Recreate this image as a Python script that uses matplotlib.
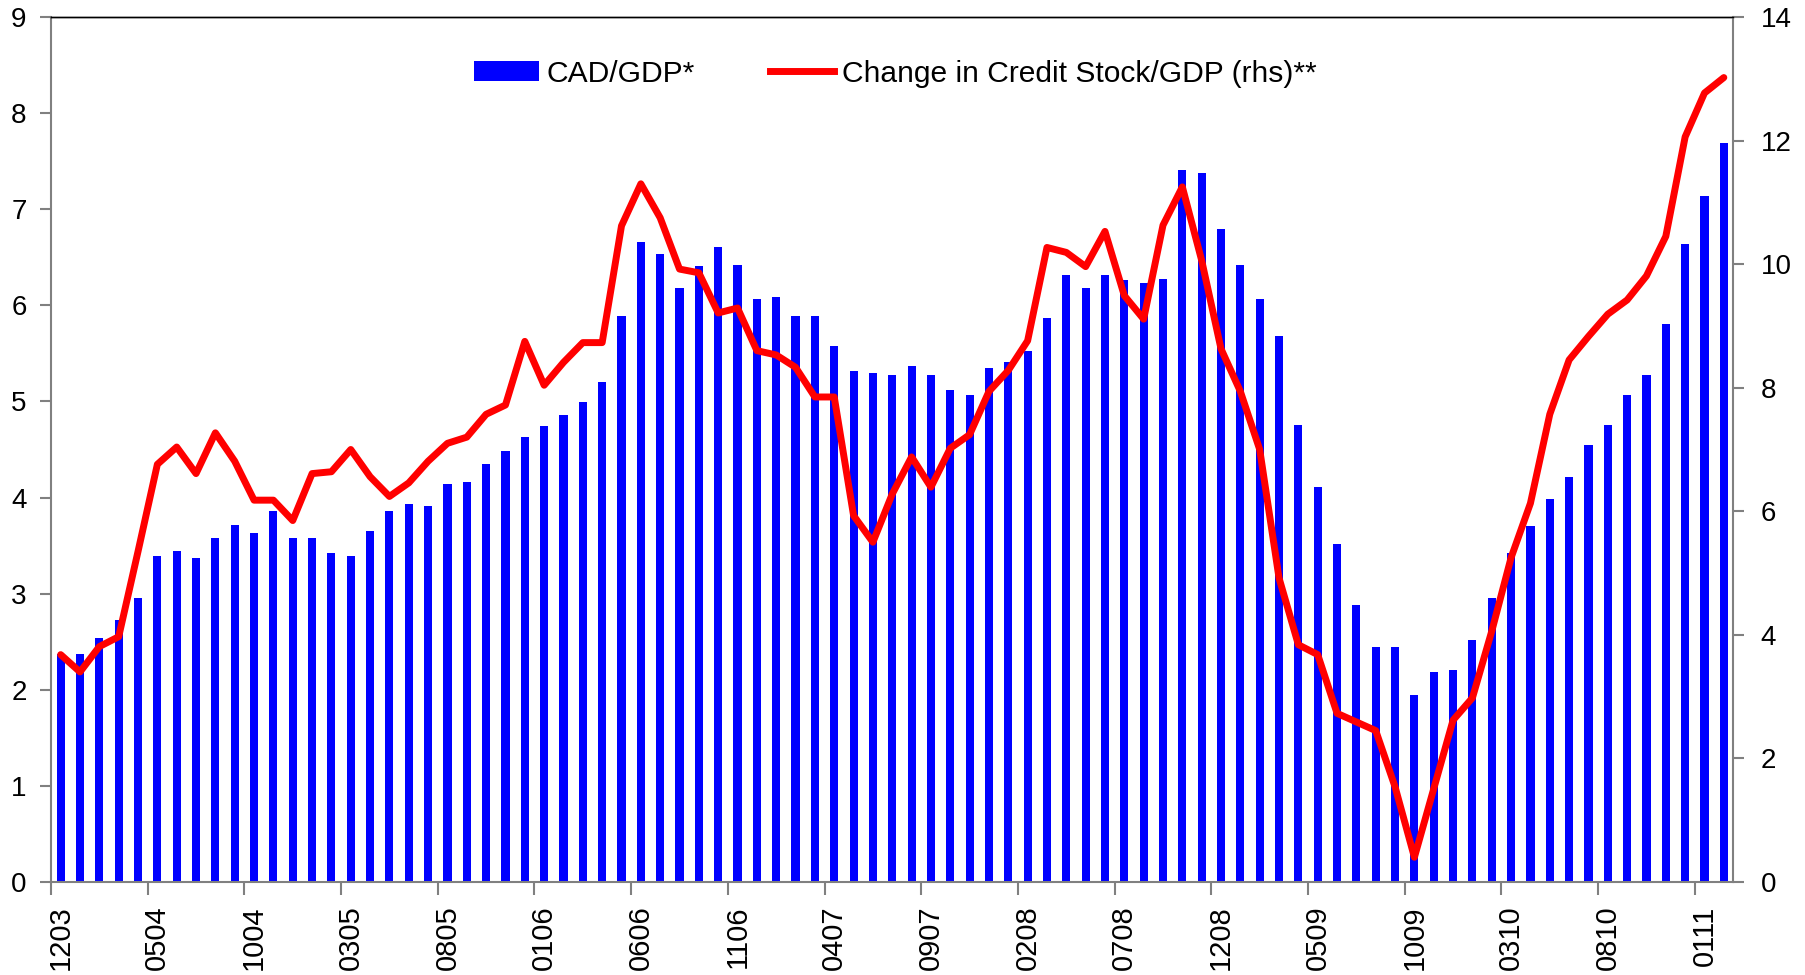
import matplotlib
matplotlib.use("Agg")
import matplotlib.pyplot as plt
from matplotlib.patches import Patch
from matplotlib.lines import Line2D

plt.rcParams['font.family'] = ['Liberation Sans', 'DejaVu Sans']

# CAD/GDP* (left axis), monthly from 12/2003 to 02/2011
cad_gdp = [2.37, 2.37, 2.54, 2.73, 2.95, 3.39, 3.44, 3.37, 3.58, 3.71, 3.63, 3.86, 3.58, 3.58, 3.42,
           3.39, 3.65, 3.86, 3.93, 3.91, 4.14, 4.16, 4.35, 4.48, 4.63, 4.74, 4.86, 4.99, 5.20, 5.89,
           6.66, 6.53, 6.18, 6.41, 6.61, 6.42, 6.07, 6.09, 5.89, 5.89, 5.58, 5.32, 5.30, 5.27, 5.37,
           5.27, 5.12, 5.07, 5.35, 5.41, 5.53, 5.87, 6.32, 6.18, 6.32, 6.26, 6.23, 6.27, 7.41, 7.38,
           6.79, 6.42, 6.07, 5.68, 4.76, 4.11, 3.52, 2.88, 2.44, 2.44, 1.95, 2.19, 2.21, 2.52, 2.95,
           3.42, 3.70, 3.98, 4.21, 4.55, 4.76, 5.07, 5.27, 5.81, 6.64, 7.14, 7.69]

# Change in Credit Stock/GDP (rhs)**
credit_gdp = [3.68, 3.40, 3.81, 3.97, 5.35, 6.76, 7.04, 6.61, 7.27, 6.81, 6.18, 6.18, 5.85, 6.61, 6.64,
              7.00, 6.56, 6.24, 6.46, 6.81, 7.10, 7.20, 7.57, 7.72, 8.75, 8.04, 8.41, 8.73, 8.73, 10.62,
              11.30, 10.75, 9.92, 9.86, 9.21, 9.29, 8.60, 8.53, 8.33, 7.85, 7.85, 5.93, 5.50, 6.28, 6.88,
              6.39, 7.02, 7.24, 7.94, 8.28, 8.76, 10.27, 10.19, 9.96, 10.53, 9.49, 9.11, 10.63, 11.25, 10.06,
              8.63, 7.94, 7.00, 4.92, 3.84, 3.68, 2.73, 2.59, 2.45, 1.54, 0.40, 1.51, 2.62, 2.98, 4.06,
              5.25, 6.13, 7.57, 8.45, 8.83, 9.19, 9.42, 9.81, 10.45, 12.06, 12.77, 13.02]

# x tick labels (every 5th month, MMYY)
tick_labels = ['1203', '0504', '1004', '0305', '0805', '0106', '0606', '1106', '0407',
               '0907', '0208', '0708', '1208', '0509', '1009', '0310', '0810', '0111']
label_step = 5

series_names = ['CAD/GDP*', 'Change in Credit Stock/GDP (rhs)**']

n = len(cad_gdp)
x = list(range(n))

W, H = 1806, 975
fig = plt.figure(figsize=(W / 100, H / 100), dpi=100)
L, R, T, B = 51, 1733.5, 17, 882
ax = fig.add_axes([L / W, 1 - B / H, (R - L) / W, (B - T) / H])

ax.bar(x, cad_gdp, width=0.42, color='#0000FF', zorder=2)
ax.set_xlim(-0.5, n - 0.5)
ax.set_ylim(0, 9)
ax.set_yticks(range(0, 10))

ax2 = ax.twinx()
ax2.plot(x, credit_gdp, color='#FF0000', lw=5, solid_joinstyle='round', solid_capstyle='round')
ax2.set_ylim(0, 14)
ax2.set_yticks(range(0, 15, 2))

gray = '#808080'
for a in (ax, ax2):
    for s in ('left', 'right', 'bottom'):
        a.spines[s].set_color(gray)
        a.spines[s].set_linewidth(1.5)
    a.spines['top'].set_color('black')
    a.spines['top'].set_linewidth(1.0)
ax.spines['right'].set_visible(False)
ax2.spines['left'].set_visible(False)
ax2.spines['bottom'].set_visible(False)

# x ticks: labels centered on categories, marks at category boundaries
major_pos = [i * label_step for i in range(len(tick_labels))]
ax.set_xticks(major_pos)
ax.set_xticklabels(tick_labels, rotation=90, fontsize=21)
ax.set_xticks([p - 0.5 for p in major_pos], minor=True)
ax.tick_params(axis='x', which='major', length=0, pad=17)
ax.tick_params(axis='x', which='minor', length=9, width=1.5, color=gray, direction='out')

ax.tick_params(axis='y', which='major', length=8, width=1.5, color=gray, labelsize=20, pad=9.5)
ax2.tick_params(axis='y', which='major', length=8, width=1.5, color=gray, labelsize=20, pad=11.5)

handles = [Patch(facecolor='#0000FF', edgecolor='none'),
           Line2D([0], [0], color='#FF0000', lw=5)]
fig.legend(handles, series_names, loc='center left',
           bbox_to_anchor=(474 / W, 1 - 73.5 / H), ncol=2, frameon=False,
           fontsize=21.6, handlelength=2.15, handleheight=0.65, handletextpad=0.27,
           columnspacing=2.5, borderpad=0, borderaxespad=0)

fig.savefig('out.png', dpi=100)
